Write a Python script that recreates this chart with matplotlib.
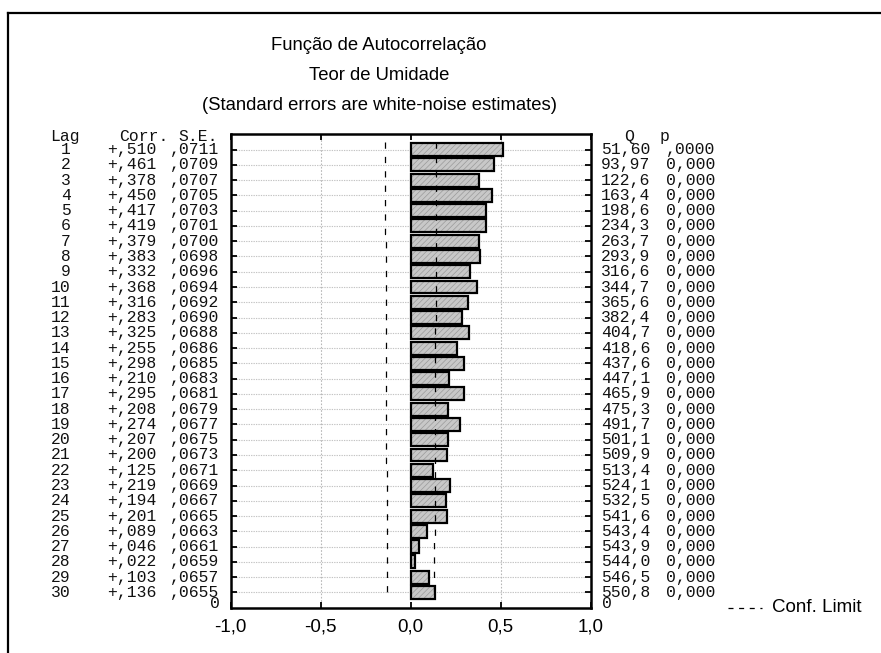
import matplotlib
matplotlib.use("Agg")
import matplotlib.pyplot as plt
import matplotlib.transforms as mtransforms
from matplotlib.lines import Line2D
import numpy as np

lags = list(range(1, 31))
corr = [0.510, 0.461, 0.378, 0.450, 0.417, 0.419, 0.379, 0.383, 0.332, 0.368,
        0.316, 0.283, 0.325, 0.255, 0.298, 0.210, 0.295, 0.208, 0.274, 0.207,
        0.200, 0.125, 0.219, 0.194, 0.201, 0.089, 0.046, 0.022, 0.103, 0.136]
se = [0.0711, 0.0709, 0.0707, 0.0705, 0.0703, 0.0701, 0.0700, 0.0698, 0.0696, 0.0694,
      0.0692, 0.0690, 0.0688, 0.0686, 0.0685, 0.0683, 0.0681, 0.0679, 0.0677, 0.0675,
      0.0673, 0.0671, 0.0669, 0.0667, 0.0665, 0.0663, 0.0661, 0.0659, 0.0657, 0.0655]
q_stat = [51.60, 93.97, 122.6, 163.4, 198.6, 234.3, 263.7, 293.9, 316.6, 344.7,
          365.6, 382.4, 404.7, 418.6, 437.6, 447.1, 465.9, 475.3, 491.7, 501.1,
          509.9, 513.4, 524.1, 532.5, 541.6, 543.4, 543.9, 544.0, 546.5, 550.8]
p_labels = [",0000"] + ["0,000"] * 29
x_ticks = [-1.0, -0.5, 0.0, 0.5, 1.0]
x_tick_labels = ["-1,0", "-0,5", "0,0", "0,5", "1,0"]
title_lines = ["Função de Autocorrelação", "Teor de Umidade",
               "(Standard errors are white-noise estimates)"]

W, H = 881, 653
fig = plt.figure(figsize=(W / 100, H / 100), dpi=100)

def fx(px):
    return px / W

def fy(py):
    return 1 - py / H

ax_l, ax_r, ax_t, ax_b = 230.7, 590.7, 134.3, 607.7
ax = fig.add_axes([fx(ax_l), fy(ax_b), fx(ax_r) - fx(ax_l), fy(ax_t) - fy(ax_b)])

n = len(lags)
ypos = np.array([n + 1 - k for k in lags], dtype=float)
ax.set_xlim(-1.0, 1.0)
ax.set_ylim(0, n + 1)

# grid
for y in ypos:
    ax.axhline(y, color="#c4c4c4", lw=0.8, ls=(0, (1.2, 1.0)), zorder=1)
for xv in [-0.5, 0.5]:
    ax.axvline(xv, color="#b8b8b8", lw=0.8, ls=(0, (1.5, 1.5)), zorder=1)

# bars
plt.rcParams["hatch.linewidth"] = 0.5
ax.barh(ypos, corr, height=0.85, left=0, color="#c8c8c8", edgecolor="#9a9a9a",
        hatch="//////", lw=0, zorder=2)
ax.barh(ypos, corr, height=0.85, left=0, facecolor="none", edgecolor="black",
        lw=1.6, zorder=3)

# confidence limits (step lines)
ys, xs = [], []
for y, s in zip(ypos, se):
    ys += [y + 0.5, y - 0.5]
    xs += [2 * s, 2 * s]
xs = np.array(xs)
ax.plot(-xs, ys, color="black", lw=0.9, dashes=(5, 6.5), zorder=4)
ax.plot(xs, ys, color="black", lw=0.9, dashes=(5, 6.5), zorder=4)

# axes styling
for sp in ax.spines.values():
    sp.set_linewidth(1.8)
    sp.set_zorder(5)
ax.set_xticks(x_ticks)
ax.set_xticklabels(x_tick_labels, fontfamily="Liberation Sans", fontsize=13.5)
ax.set_yticks(ypos)
ax.set_yticklabels([])
ax.tick_params(axis="x", direction="in", length=4, width=1.3, top=True, bottom=True,
               pad=8)
ax.tick_params(axis="y", direction="in", length=4, width=1.3, left=True, right=True)

# row texts
mono = dict(fontfamily="Liberation Mono", fontsize=11.8, color="#111111")
tr = mtransforms.blended_transform_factory(fig.transFigure, ax.transData)
hy = n + 0.85
ax.text(fx(80), hy, "Lag", transform=tr, ha="right", va="center", **mono)
ax.text(fx(168), hy, "Corr.", transform=tr, ha="right", va="center", **mono)
ax.text(fx(218), hy, "S.E.", transform=tr, ha="right", va="center", **mono)
ax.text(fx(629), hy, "Q", transform=tr, ha="center", va="center", **mono)
ax.text(fx(660), hy, "p", transform=tr, ha="left", va="center", **mono)
for k, y, c, s, q, p in zip(lags, ypos, corr, se, q_stat, p_labels):
    ax.text(fx(71), y, f"{k}", transform=tr, ha="right", va="center", **mono)
    ax.text(fx(157), y, ("+" if c >= 0 else "-") + f"{abs(c):.3f}"[1:].replace(".", ","),
            transform=tr, ha="right", va="center", **mono)
    ax.text(fx(219), y, f"{s:.4f}"[1:].replace(".", ","), transform=tr,
            ha="right", va="center", **mono)
    qs = f"{q:.2f}" if q < 100 else f"{q:.1f}"
    ax.text(fx(601), y, qs.replace(".", ","), transform=tr, ha="left", va="center", **mono)
    ax.text(fx(666), y, p, transform=tr, ha="left", va="center", **mono)
ax.text(fx(220), 0.3, "0", transform=tr, ha="right", va="center", **mono)
ax.text(fx(602), 0.3, "0", transform=tr, ha="left", va="center", **mono)

# titles
for t, py in zip(title_lines, [46, 76, 106]):
    fig.text(fx(379), fy(py), t, ha="center", va="center",
             fontfamily="Liberation Sans", fontsize=13.3)

# legend
fig.add_artist(Line2D([fx(728), fx(762)], [fy(608), fy(608)], color="black", lw=0.9,
                      dashes=(4, 4.5)))
fig.text(fx(772), fy(608), "Conf. Limit", ha="left", va="center",
         fontfamily="Liberation Sans", fontsize=13.5)

# figure frame
fig.add_artist(Line2D([fx(8), 1.0], [fy(13), fy(13)], color="black", lw=1.6))
fig.add_artist(Line2D([fx(8), fx(8)], [fy(13), 0.0], color="black", lw=1.6))

fig.savefig("out.png", dpi=100)
